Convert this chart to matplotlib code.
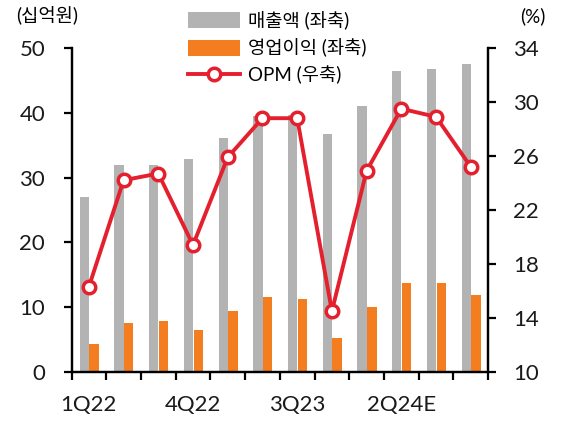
import matplotlib
matplotlib.use("Agg")
import matplotlib.pyplot as plt
from matplotlib.ticker import FixedLocator

plt.rcParams['font.family'] = ['Lato', 'Noto Sans CJK KR', 'DejaVu Sans']

# data
quarters = ["1Q22", "2Q22", "3Q22", "4Q22", "1Q23", "2Q23", "3Q23", "4Q23",
            "1Q24", "2Q24E", "3Q24E", "4Q24E"]
sales = [27.0, 31.9, 31.9, 32.8, 36.1, 39.5, 39.7, 36.7, 41.0, 46.4, 46.7, 47.6]
op_profit = [4.3, 7.6, 7.9, 6.4, 9.4, 11.6, 11.3, 5.3, 10.0, 13.7, 13.7, 11.9]
opm = [16.3, 24.2, 24.7, 19.4, 25.9, 28.8, 28.8, 14.5, 24.9, 29.5, 28.9, 25.2]
shown_labels = ["1Q22", "4Q22", "3Q23", "2Q24E"]

GRAY = "#B3B3B3"
ORANGE = "#F47D20"
RED = "#E5202E"

fig = plt.figure(figsize=(5.63, 4.25), dpi=100)
ax = fig.add_axes([0.127, 0.125, 0.740, 0.762])
ax2 = ax.twinx()

x = list(range(len(quarters)))
w = 0.27
b1 = ax.bar([i - 0.13 for i in x], sales, width=w, color=GRAY, label="매출액 (좌축)")
b2 = ax.bar([i + 0.15 for i in x], op_profit, width=w, color=ORANGE, label="영업이익 (좌축)")
l1, = ax2.plot(x, opm, color=RED, lw=2.8, marker="o", ms=9, mfc="white",
               mec=RED, mew=2.5, label="OPM (우축)")

ax.set_xlim(-0.5, len(quarters) - 0.5)
ax.set_ylim(0, 50)
ax.set_yticks(range(0, 51, 10))
ax2.set_ylim(10, 34)
ax2.set_yticks(range(10, 35, 4))

ax.set_xticks([quarters.index(q) for q in shown_labels])
ax.set_xticklabels(shown_labels)
ax.xaxis.set_minor_locator(FixedLocator([i - 0.5 for i in range(len(quarters) + 1)]))
ax.tick_params(axis="x", which="major", length=0, pad=17, labelsize=16, labelcolor="#1a1a1a")
ax.tick_params(axis="x", which="minor", direction="out", length=6, width=1.6)
ax.tick_params(axis="y", direction="out", length=6, width=1.6, labelsize=16, pad=13,
               labelcolor="#1a1a1a")
ax2.tick_params(axis="y", direction="out", length=6, width=1.6, labelsize=16, pad=12,
                labelcolor="#1a1a1a")

for a in (ax, ax2):
    a.spines["top"].set_visible(False)
    for s in ("left", "right", "bottom"):
        a.spines[s].set_linewidth(1.6)

fig.text(0.083, 0.962, "(십억원)", ha="center", va="center", fontsize=13.5)
fig.text(0.947, 0.962, "(%)", ha="center", va="center", fontsize=13.5)

fig.legend(handles=[b1, b2, l1], loc="upper left", bbox_to_anchor=(0.310, 1.005),
           frameon=False, fontsize=13.5, handlelength=2.8, handleheight=0.95,
           handletextpad=0.4, labelspacing=0.45, borderpad=0.2)

fig.savefig("out.png", dpi=100)
